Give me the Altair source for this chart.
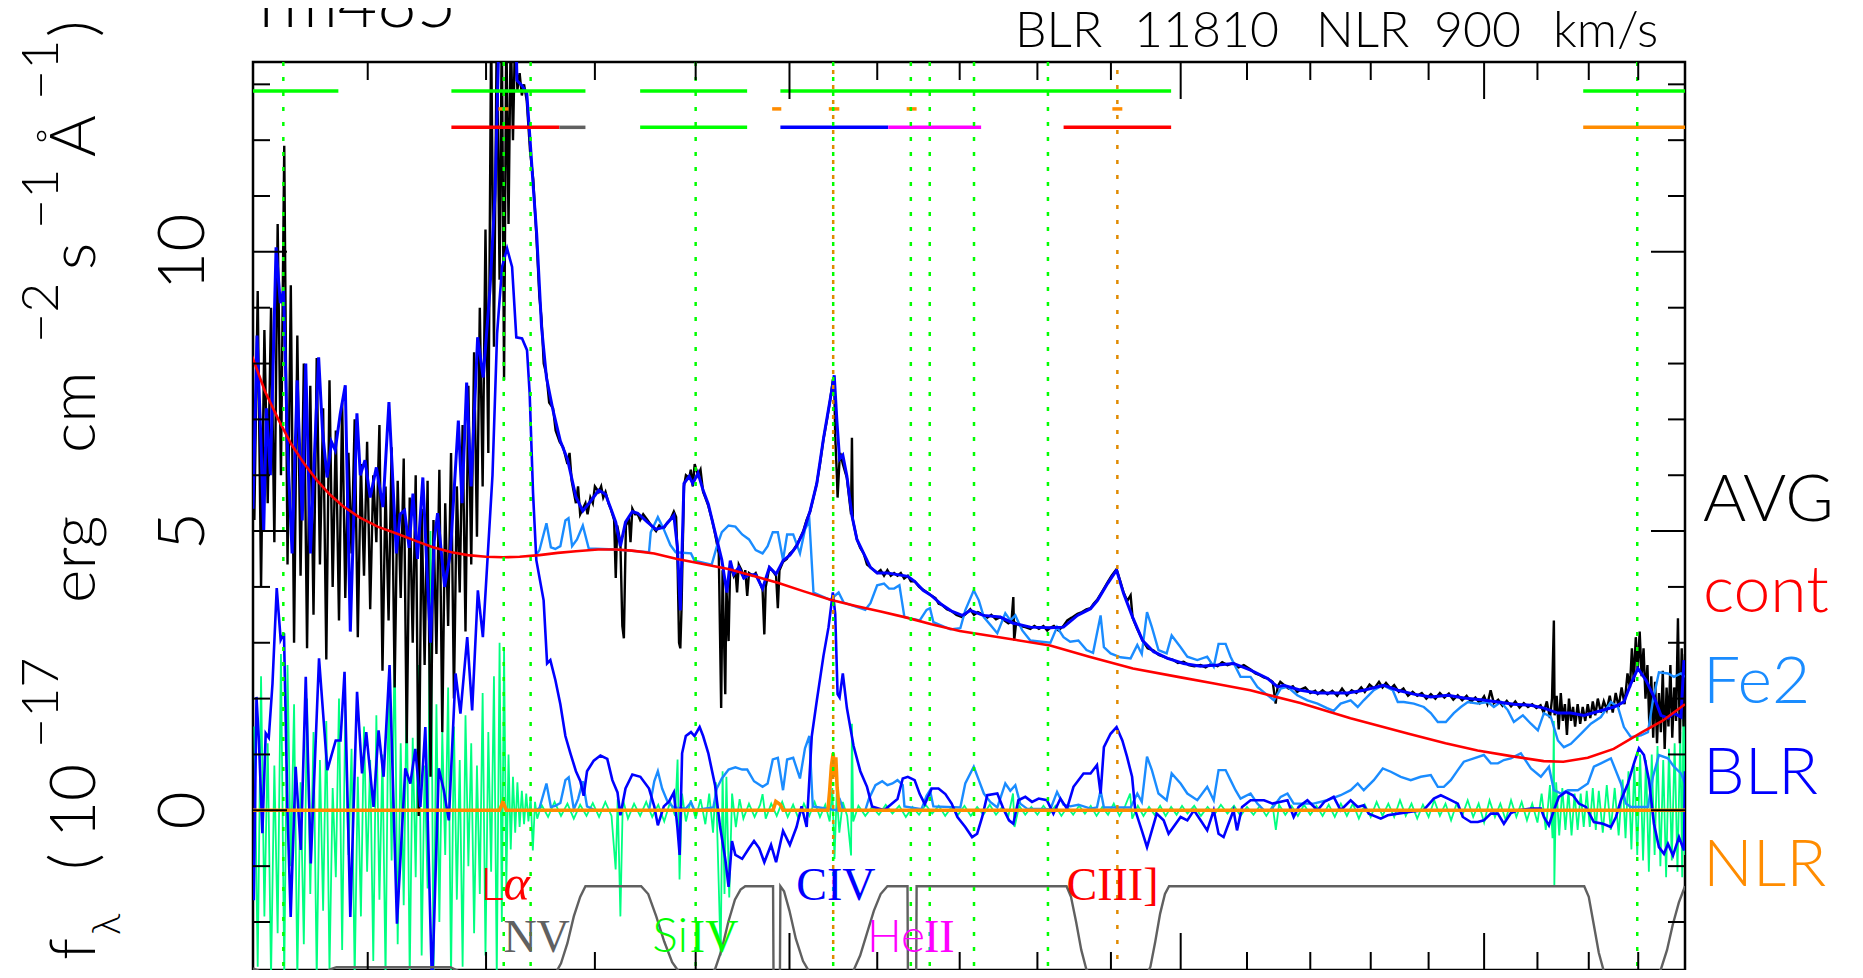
import altair as alt
import pandas as pd

# ---------------- layout ----------------
W, H = 1432, 908
X_DOMAIN = [1011, 2898]
Y_DOMAIN = [-2.86, 13.40]
SANS = "Lato"
SERIF = "Liberation Serif"

C_AVG = "#000000"
C_CONT = "#ff0000"
C_FE2 = "#1a8cff"
C_BLR = "#0000ff"
C_NLR = "#ff8c00"
C_RES = "#00ff80"
C_WIN = "#606060"
C_GRN = "#00ff00"
C_MAG = "#ff00ff"
C_DOTO = "#e08a00"

# ---------------- data (wavelength [A], flux [1e-17]) ----------------
AVG = [(1012,5.2),(1014.5,9.3),(1017,4.0),(1019.5,8.6),(1022,5.5),(1024.5,9.0),(1027,4.8),(1029.5,10.5),(1032,6.0),(1034.5,11.9),(1037,4.4),(1039.5,9.4),(1042,3.0),(1044.5,8.5),(1047,4.2),(1049.5,8.0),(1052,2.9),(1054.5,7.6),(1057,3.5),(1059.5,8.1),(1062,4.4),(1064.5,7.2),(1067,2.7),(1069.5,7.7),(1072,4.0),(1074.5,6.8),(1077,3.4),(1079.5,7.3),(1082,3.8),(1084.5,6.4),(1087,4.6),(1089.5,7.0),(1092,3.1),(1094.5,6.2),(1097,4.2),(1099.5,6.6),(1102,3.6),(1104.5,6.0),(1107,4.8),(1109.5,6.9),(1112,2.5),(1114.5,5.8),(1117,3.4),(1119.5,6.5),(1122,2.2),(1124.5,5.9),(1127,3.8),(1129.5,6.3),(1132,1.2),(1134.5,5.6),(1137,3.0),(1139.5,6.0),(1142,-0.1),(1144.5,5.4),(1147,2.6),(1149.5,5.9),(1152,0.6),(1154.5,5.2),(1157,2.8),(1159.5,6.1),(1162,1.4),(1164.5,5.5),(1167,3.3),(1169.5,6.4),(1172,2.0),(1174.5,5.8),(1177,3.9),(1179.5,6.9),(1182,3.2),(1184.5,7.6),(1187,4.4),(1189.5,8.2),(1192,4.9),(1194.5,9.0),(1197,5.8),(1199.5,10.4),(1202,6.4),(1204.5,14.0),(1207,8.3),(1209.5,14.0),(1212,9.5),(1214,14.0),(1216,7.7),(1218,14.0),(1220,10.5),(1222,14.0),(1224,12.0),(1226,14.0),
       (1228,12.9),(1230,13.2),(1232,12.8),(1234,13.0),(1236.5,12.7),(1239.5,11.8),(1242.4,11.3),(1245.5,10.2),(1248,9.2),(1250,8.8),(1252,8.0),(1254.5,7.8),(1257,7.3),(1260.6,7.2),(1263,6.8),(1266.7,6.6),(1270,6.5),(1274,6.2),(1276,6.4),(1278,5.9),(1282,5.5),(1284,5.8),(1286,5.3),(1288.5,5.4),(1291,5.5),(1293,5.3),(1295.7,5.6),(1298,5.5),(1300,5.8),(1303.7,5.7),(1306,5.8),(1308,5.6),(1310.2,5.7),(1313,5.5),(1315.2,5.4),(1318.5,5.2),(1320.1,4.16),(1321.5,5.1),(1324.6,4.8),(1326.5,3.3),(1328,3.08),(1330,5.1),(1333,5.2),(1334.5,4.8),(1336.3,5.4),(1339,5.3),(1341.6,5.3),(1344,5.2),(1347,5.3),(1351.2,5.2),(1355,5.1),(1359.8,5.0),(1363,5.1),(1367.6,5.05),(1371,5.15),(1374,5.2),(1377.7,5.35),(1380,5.25),(1381.3,4.6),(1383,3.0),(1384.3,2.9),(1385.5,3.6),(1388,5.8),(1390,6.0),(1393.4,5.95),(1395,6.1),(1397,5.8),(1399,6.2),(1402.4,6.0),(1405,6.1),(1407.7,5.7),(1410,5.6),(1413.1,5.45),(1417,5.2),(1420.1,4.95),(1424,4.6),(1426.5,1.83),(1428,4.3),(1430.8,2.08),(1432,4.0),(1434.3,3.03),(1436,4.4),(1439.7,4.2),(1441.5,4.3),(1443.3,3.9),(1445.1,4.4),(1448,4.3),(1450.5,4.15),(1452,4.3),(1454.1,3.84),(1456,4.25),(1460,4.2),(1463.2,4.25),(1467,4.1),(1470.6,3.95),(1472.5,3.15),(1474,4.0),(1478,4.35),(1481,4.3),(1485.3,4.2),(1487.2,3.62),(1489,4.3),(1492.9,4.45),(1497,4.5),(1500.4,4.6),(1504,4.65),(1507.8,4.75),(1511,4.85),(1515.3,5.0),(1519,5.2),(1522.9,5.35),(1526.7,5.6),(1530.4,5.85),(1534,6.2),(1538,6.65),(1542,7.0),(1545.6,7.35),(1548.6,7.7),(1550.2,7.7),(1551.3,6.7),(1553.2,6.0),(1554,5.6),(1556.3,6.3),(1557.1,6.4),(1560,6.2),(1564.7,5.95),(1569.5,5.3),(1570.5,6.67),(1571.5,5.2),(1576.3,4.85),(1580,4.7),(1584.1,4.6),(1588,4.4),(1592,4.35),(1596,4.3),(1599.9,4.25),(1604,4.3),(1608,4.2),(1612,4.3),(1616,4.2),(1620,4.25),(1624,4.2),(1628,4.25),(1632,4.15),(1636.4,4.2),(1640,4.1),(1644.6,4.1),(1650,4.0),(1654.9,3.95),(1660,3.9),(1665.4,3.84),(1670,3.8),(1674,3.7),(1678,3.68),(1684,3.6),(1690.6,3.56),(1696,3.5),(1703.2,3.46),(1708,3.52),(1713.3,3.6),(1718,3.5),(1723,3.55),(1729.7,3.5),(1735,3.45),(1740,3.5),(1746,3.42),(1751.5,3.46),(1757,3.4),(1762,3.35),(1766,3.38),(1768.4,3.82),(1769.5,3.04),(1772,3.35),(1778,3.3),(1784,3.28),(1790.7,3.25),(1796,3.3),(1802,3.25),(1808,3.3),(1813,3.22),(1817.3,3.27),(1822,3.3),(1828,3.22),(1834.8,3.3),(1840,3.4),(1846,3.45),(1853.8,3.52),(1860,3.55),(1866,3.6),(1871.7,3.62),(1876,3.7),(1881.4,3.78),(1888,3.92),(1895.3,4.08),(1901,4.2),(1907.9,4.32),(1912,4.15),(1917.8,3.9),(1923,3.75),(1927.7,3.85),(1930.5,3.45),(1937,3.25),(1944.8,3.04),(1952,2.9),(1960.6,2.86),(1968,2.78),(1975,2.75),(1980.9,2.72),(1988,2.7),(1996,2.64),(2004.3,2.66),(2012,2.6),(2020,2.58),(2029.5,2.6),(2037,2.56),(2045,2.62),(2055,2.58),(2062,2.65),(2070,2.6),(2079.3,2.64),(2087,2.56),(2095,2.6),(2105.5,2.52),(2113,2.45),(2120,2.42),(2126,2.38),(2132.1,2.36),(2140,2.3),(2144.7,1.91),(2147.9,2.22),(2152,2.3),(2157.4,2.25),(2165,2.18),(2172,2.22),(2179,2.12),(2184.5,2.16),(2192,2.2),(2200,2.1),(2208,2.14),(2212,2.08),(2220,2.15),(2228,2.08),(2236,2.14),(2244,2.05),(2252,2.18),(2260,2.06),(2268,2.15),(2276,2.1),(2284,2.2),(2290,2.12),(2298,2.25),(2306,2.18),(2314,2.3),(2320,2.2),(2326,2.28),(2334,2.18),(2340,2.24),(2348,2.12),(2356,2.18),(2364,2.05),(2372,2.12),(2380,2.05),(2388,2.1),(2396,2.0),(2404,2.08),(2412,2.0),(2420,2.1),(2428,2.02),(2436,2.09),(2444,1.98),(2452,2.06),(2460,1.97),(2468,2.05),(2476,1.94),(2484,2.02),(2492,1.92),(2500,2.04),(2506,1.9),(2512,2.15),(2518,1.92),(2526,1.98),(2534,1.87),(2542,1.96),(2550,1.86),(2558,1.95),(2566,1.84),(2574,1.92),(2582,1.85),(2590,1.9),(2598,1.83),(2606,1.88),(2612,1.75),(2618,1.95),(2624,1.65),(2628,2.0),(2631.6,3.4),(2633,1.7),(2637,2.05),(2641,1.45),(2645,2.1),(2649,1.6),(2653,1.9),(2657,1.35),(2661,2.0),(2665,1.6),(2669,1.85),(2673,1.5),(2678,1.9),(2683,1.55),(2688,1.85),(2693,1.6),(2698,1.9),(2703,1.65),(2708,1.95),(2713,1.7),(2718,2.0),(2724,1.75),(2730,1.95),(2736,1.8),(2742,2.05),(2748,1.75),(2754,2.1),(2760,1.85),(2766,2.2),(2772,1.9),(2778,2.45),(2783,2.2),(2787,2.9),(2791,2.3),(2795,3.1),(2799,2.5),(2803,3.2),(2807,2.4),(2811,2.9),(2815,2.0),(2819,2.6),(2823,1.5),(2827,2.4),(2831,1.3),(2835,2.3),(2839,1.2),(2843,2.1),(2847,1.4),(2851,2.5),(2855,1.1),(2859,2.2),(2863,1.5),(2867,2.6),(2871,1.3),(2875,2.2),(2879,1.6),(2883,3.44),(2887,1.2),(2891,2.9),(2895,1.5),(2898,2.8)]

TOTAL = [(1011,5.4),(1014,8.5),(1016.5,6.9),(1019,5.0),(1021,7.2),(1024,6.0),(1028.3,10.08),(1031.5,9.08),(1034,9.31),(1037,6.5),(1040.5,4.6),(1044.4,7.7),(1048.3,5.19),(1051,8.0),(1054.6,4.6),(1058,6.5),(1061,8.11),(1064,6.8),(1067.6,5.96),(1071,6.6),(1074,6.45),(1078,7.1),(1082,7.61),(1086,3.2),(1091.3,7.11),(1094,6.0),(1097.8,6.27),(1102,5.6),(1107,6.14),(1112.4,5.43),(1117.3,7.31),(1123.4,4.6),(1126.5,5.3),(1130.2,5.37),(1134,4.7),(1137.2,5.67),(1141,4.5),(1145.5,5.96),(1149,4.3),(1152,3.0),(1155,4.8),(1158,5.32),(1164,4.0),(1168.9,4.6),(1175.8,6.98),(1179,5.5),(1183,7.66),(1186.9,5.8),(1192.6,8.47),(1197.5,7.75),(1203.4,9.31),(1208,11.05),(1211,13.5),(1213,14.5),(1226,14.5),(1227.6,13.07),(1232,12.98),(1236.5,12.84),(1239.5,12.0),(1242.4,11.16),(1245.5,10.33),(1250,8.65),(1254.5,7.75),(1260.6,7.16),(1267.4,6.61),(1274,6.29),(1282,5.61),(1288.5,5.36),(1295.7,5.53),(1303.7,5.73),(1310.2,5.66),(1315.2,5.41),(1320.1,5.16),(1324.6,4.73),(1329.6,5.16),(1336.3,5.35),(1341.6,5.32),(1351.2,5.16),(1359.8,5.03),(1367.6,5.07),(1377.7,5.28),(1381.3,4.72),(1384.3,3.58),(1388,5.85),(1393.4,5.98),(1397,5.85),(1402.4,6.04),(1407.7,5.73),(1413.1,5.48),(1420.1,4.98),(1427.2,4.48),(1432.5,3.9),(1436.1,4.47),(1439.7,4.23),(1445.1,4.35),(1450.5,4.16),(1456,4.22),(1463.2,4.22),(1470.6,3.97),(1478,4.35),(1485.3,4.23),(1492.9,4.47),(1500.4,4.57),(1507.8,4.73),(1515.3,4.98),(1522.9,5.36),(1530.4,5.85),(1538,6.66),(1545.6,7.36),(1550.2,7.79),(1553.2,6.98),(1556.3,6.29),(1560,6.36),(1564.7,5.98),(1570.5,5.28),(1576.3,4.85),(1584.1,4.6),(1592,4.35),(1599.9,4.25),(1612,4.25),(1624,4.22),(1636.4,4.19),(1644.6,4.1),(1654.9,3.94),(1665.4,3.84),(1678,3.68),(1690.6,3.56),(1703.2,3.49),(1713.3,3.58),(1729.7,3.49),(1751.5,3.46),(1768.4,3.35),(1790.7,3.28),(1817.3,3.27),(1834.8,3.28),(1853.8,3.49),(1871.7,3.61),(1881.4,3.76),(1895.3,4.06),(1907.9,4.3),(1917.8,3.88),(1930.5,3.46),(1944.8,3.04),(1960.6,2.84),(1980.9,2.72),(2004.3,2.63),(2029.5,2.58),(2055,2.6),(2079.3,2.63),(2105.5,2.51),(2132.1,2.36),(2147.9,2.21),(2157.4,2.24),(2184.5,2.15),(2212,2.1),(2238.2,2.1),(2261.4,2.1),(2288.2,2.15),(2322.2,2.24),(2346.2,2.15),(2374,2.08),(2403.9,2.03),(2434.2,2.06),(2463,2.01),(2494,1.98),(2525.4,1.94),(2555.3,1.9),(2587.5,1.88),(2612.4,1.83),(2639.4,1.74),(2664.7,1.74),(2690.3,1.7),(2718.2,1.77),(2750.4,1.85),(2770.7,1.94),(2785,2.27),(2799.4,2.54),(2816,2.33),(2832.6,2.03),(2847.2,1.7),(2861.9,1.65),(2874.6,1.74),(2889.4,1.67),(2895.8,2.69)]

BLR = [(1011.6,-1.61),(1013.6,2.03),(1015.4,1.25),(1018,-0.41),(1020.5,1.38),(1022.8,1.3),(1025.6,2.27),(1028.8,3.98),(1031.8,3.05),(1034.3,3.17),(1036.9,0.06),(1039.4,-1.91),(1043.2,0.78),(1047.2,-0.71),(1051,2.39),(1054.9,-0.95),(1061.3,2.72),(1067.8,0.72),(1074.4,1.25),(1078.2,1.25),(1081.4,2.48),(1086,-1.91),(1091.4,2.12),(1095.4,0.66),(1098.8,1.4),(1104.7,0.06),(1108.8,1.43),(1112.9,0.6),(1117.8,2.6),(1123.9,-2.03),(1130.8,0.75),(1135,0.48),(1139.2,1.1),(1143.4,0.06),(1147.6,1.49),(1153.3,-3.2),(1159,0.75),(1163.3,0.36),(1167.6,-0.18),(1173.4,2.45),(1177.6,1.73),(1183.5,3.1),(1187.8,1.79),(1192.8,3.94),(1197.2,3.1),(1201.3,4.5),(1205.7,6.0),(1209.8,8.54),(1214.2,9.73),(1218.7,10.06),(1223.2,9.73),(1227,8.47),(1232.2,8.45),(1236.7,8.24),(1239.1,7.47),(1242.2,5.68),(1245.2,4.48),(1251.9,3.76),(1255.1,2.63),(1258.1,2.69),(1262.8,2.33),(1267.4,1.9),(1272.1,1.33),(1276.8,1.02),(1282,0.7),(1286.2,0.52),(1289.3,0.26),(1292.5,0.7),(1298.9,0.89),(1305.3,0.98),(1311.9,0.92),(1316.8,0.54),(1321.8,0.32),(1324.6,-0.09),(1329.6,0.39),(1336.3,0.64),(1344.2,0.6),(1352.8,0.39),(1358,0.07),(1361.6,-0.27),(1367.6,0.07),(1372.9,0.16),(1377.7,0.32),(1381.3,-0.3),(1383.6,-0.8),(1386.1,1.02),(1389.9,1.33),(1395.2,1.4),(1398.8,1.33),(1404.1,1.49),(1407.7,1.33),(1413.1,1.02),(1420.1,0.45),(1425.4,-0.3),(1430.8,-0.87),(1434.3,-1.37),(1437.9,-0.55),(1441.5,-0.8),(1448.7,-0.87),(1456,-0.68),(1461.4,-0.55),(1467,-0.68),(1472.5,-0.93),(1479.8,-0.62),(1485.3,-0.93),(1492.9,-0.37),(1500.4,-0.62),(1507.8,-0.3),(1513.4,0.07),(1519.1,-0.3),(1524.8,1.33),(1530.4,1.96),(1538,2.77),(1543.7,3.28),(1548.6,3.9),(1551.3,3.52),(1554,2.08),(1556.3,2.02),(1560,2.45),(1564.7,1.83),(1572.4,1.15),(1580.2,0.7),(1588,0.42),(1593.9,0.07),(1608,0.0),(1624,0.2),(1630.3,0.57),(1636.4,0.6),(1644.6,0.54),(1650.8,0.29),(1657,0.11),(1665.4,0.39),(1673.7,0.39),(1682.2,0.29),(1690,0.12),(1697.2,-0.12),(1707,-0.3),(1715.6,-0.48),(1722,-0.42),(1728.4,-0.12),(1734.8,0.27),(1747.7,0.3),(1756.3,0.0),(1762.8,-0.18),(1768.4,-0.24),(1775,0.18),(1784.1,0.24),(1792.9,0.15),(1801.7,0.21),(1812.6,0.18),(1821.3,-0.06),(1830.7,0.21),(1839.6,0.03),(1848.4,0.42),(1862.1,0.66),(1871.7,0.66),(1880.6,0.81),(1885.6,0.3),(1890.2,1.13),(1899.5,1.37),(1907.9,1.49),(1916,1.25),(1922.6,0.96),(1929.8,0.6),(1934.3,0.0),(1943.6,-0.36),(1951.1,-0.66),(1958.1,-0.36),(1965.1,-0.06),(1975.1,-0.18),(1982.3,-0.42),(1999.9,-0.12),(2009.8,-0.18),(2019.6,0.0),(2029.5,-0.18),(2039.4,-0.36),(2049.2,0.0),(2056.5,-0.42),(2064.1,-0.48),(2071.6,-0.24),(2079.3,0.0),(2084.6,-0.36),(2092.4,0.06),(2105.5,0.18),(2126.4,0.18),(2139.6,0.12),(2163.4,0.18),(2173.3,-0.12),(2181.3,0.06),(2195.3,0.18),(2211.8,0.0),(2222.7,0.15),(2238.2,0.24),(2249.7,0.0),(2266.3,0.18),(2278.1,0.06),(2288.2,0.09),(2296.7,-0.06),(2317.1,-0.15),(2329,-0.09),(2346.2,-0.06),(2372,-0.02),(2391,0.0),(2409.2,0.21),(2421.6,0.27),(2434.2,0.21),(2452.1,0.12),(2461.2,-0.12),(2475.7,-0.21),(2488.5,-0.21),(2499.5,-0.18),(2512.4,-0.06),(2525.4,-0.06),(2536.6,-0.24),(2549.7,-0.05),(2562.9,0.0),(2587.5,0.03),(2606.6,0.03),(2612.4,-0.12),(2622,-0.27),(2631.6,0.0),(2641.3,0.24),(2655,0.33),(2668.7,0.27),(2680.4,0.12),(2694.3,0.06),(2710.2,-0.21),(2728.2,-0.24),(2744.3,-0.3),(2754.5,-0.12),(2764.6,0.18),(2778.9,0.48),(2791.2,0.84),(2801.5,1.11),(2811.8,0.99),(2822.2,0.54),(2832.6,-0.24),(2843,-0.66),(2853.5,-0.78),(2861.9,-0.6),(2872.5,-0.81),(2885.2,-0.48),(2895.8,-0.72),(2898,0.7)]

FE2 = [(1245,0.0),(1248.1,0.04),(1254.5,0.48),(1258.6,0.06),(1262.7,0.08),(1267.4,0.13),(1272.1,0.54),(1275.2,0.59),(1280,0.02),(1284,0.2),(1288.5,0.52),(1292.5,0.07),(1300,0.0),(1352.8,0.0),(1358,0.52),(1361.6,0.7),(1365.9,0.39),(1371.2,0.16),(1377.7,0.05),(1390,0.03),(1395.2,0.14),(1398.8,0.0),(1418.3,0.05),(1421.9,0.39),(1427.2,0.57),(1434.3,0.73),(1441.5,0.77),(1448.7,0.73),(1454.1,0.73),(1461.4,0.52),(1470.6,0.42),(1476.1,0.48),(1481.7,0.91),(1487.2,0.94),(1492.9,0.36),(1497.4,0.91),(1504.1,0.94),(1511.6,0.57),(1517.2,1.11),(1522.1,1.33),(1525.9,0.07),(1553.2,0.0),(1557.1,0.17),(1561,0.0),(1586,0.0),(1590,0.2),(1597.9,0.45),(1605.9,0.52),(1612,0.45),(1618,0.48),(1624,0.54),(1630.3,0.45),(1632.3,0.07),(1652.9,0.02),(1659.1,0.26),(1663.3,0.36),(1667.4,0.07),(1700.8,0.05),(1707,0.48),(1717.7,0.78),(1724.1,0.54),(1730.5,0.3),(1738.7,0.15),(1747.7,0.05),(1758,0.48),(1764.5,0.35),(1771,0.45),(1777.4,0.12),(1786.2,0.03),(1817.3,0.02),(1826.2,0.33),(1834.9,0.1),(1843.9,0.07),(1855.1,0.1),(1871.7,0.03),(1880.6,0.05),(1885.6,0.36),(1890.2,0.05),(1927.7,0.05),(1937.2,0.3),(1943.6,0.15),(1951.1,0.96),(1958.1,0.72),(1967.6,0.3),(1979.5,0.18),(1986.8,0.66),(1999.9,0.48),(2009.8,0.3),(2024.6,0.18),(2039.4,0.42),(2049.2,0.18),(2056.5,0.72),(2067.2,0.72),(2074.7,0.54),(2082.3,0.36),(2090,0.21),(2105.5,0.3),(2116,0.12),(2126.4,0.0),(2136.9,0.0),(2152.6,0.24),(2163.4,0.3),(2173.3,0.12),(2190,0.12),(2205.2,0.12),(2227.3,0.18),(2249.7,0.27),(2266.3,0.36),(2278.1,0.48),(2288.2,0.36),(2305.2,0.54),(2320.5,0.75),(2334.2,0.69),(2351.4,0.6),(2368.7,0.54),(2386.2,0.6),(2403.9,0.63),(2416.3,0.42),(2427,0.42),(2439.5,0.54),(2452.1,0.72),(2463,0.87),(2481.2,0.93),(2499.5,0.99),(2512.4,0.84),(2525.4,0.84),(2536.6,0.9),(2549.7,0.93),(2568.5,1.02),(2587.5,0.75),(2606.6,0.6),(2622,0.78),(2631.6,0.36),(2645.2,0.3),(2658.9,0.36),(2678.4,0.36),(2698.2,0.48),(2710.2,0.78),(2724.2,0.84),(2744.3,0.93),(2764.6,0.48),(2774.8,0.12),(2785,0.06),(2820.1,0.06),(2830.5,0.6),(2843,0.99),(2861.9,0.93),(2874.6,0.78),(2889.4,0.66),(2898,0.48)]

FE2_CONT = [(1245,4.57),(1248.1,4.66),(1254.5,5.14),(1258.6,4.71),(1262.7,4.68),(1267.4,4.73),(1272.1,5.19),(1275,5.23),(1278.4,4.73),(1283,4.85),(1288.5,5.1),(1294.1,4.69),(1320,4.67),(1352.8,4.62),(1354.5,4.98),(1361.6,5.25),(1367.6,5.03),(1374.2,4.75),(1379.6,4.62),(1395.2,4.6),(1398.8,4.47),(1416.6,4.4),(1421.9,4.72),(1427.2,4.98),(1434.3,5.1),(1441.5,5.08),(1448.7,4.94),(1456,4.85),(1463.2,4.66),(1470.6,4.6),(1476.1,4.73),(1481.7,4.98),(1487.2,4.98),(1492.9,4.48),(1497.4,4.94),(1504.1,4.94),(1511.6,4.6),(1517.2,5.03),(1522.1,5.19),(1526.7,3.9),(1545.6,3.77),(1555.2,3.9),(1561,3.72),(1586,3.59),(1592,3.71),(1599.9,4.03),(1608,4.06),(1614,3.97),(1620,3.97),(1626.3,4.03),(1632.3,3.46),(1650.8,3.4),(1659.1,3.59),(1663.3,3.62),(1667.4,3.37),(1688.3,3.24),(1700.8,3.26),(1707,3.58),(1717.7,3.94),(1724.1,3.76),(1730.5,3.46),(1747.7,3.17),(1758,3.53),(1764.5,3.4),(1771,3.49),(1780.1,3.22),(1790.7,3.04),(1817.3,3.0),(1826.2,3.28),(1834.9,3.1),(1843.9,3.02),(1855.1,3.04),(1866.2,2.87),(1875.2,2.82),(1885.6,3.49),(1890.2,2.92),(1899.5,2.81),(1913.5,2.74),(1927.7,2.72),(1937.2,2.96),(1943.6,2.8),(1951.1,3.55),(1958.1,3.28),(1967.6,2.87),(1979.5,2.81),(1986.8,3.13),(1999.9,2.92),(2009.8,2.75),(2024.6,2.69),(2039.4,2.75),(2049.2,2.57),(2056.5,2.98),(2067.2,2.98),(2074.7,2.75),(2082.3,2.57),(2090,2.39),(2105.5,2.39),(2116,2.21),(2128.9,2.09),(2142,1.97),(2152.6,2.18),(2163.4,2.21),(2179,2.06),(2195.3,1.97),(2211.8,1.91),(2227.3,1.83),(2238.2,1.78),(2249.7,1.91),(2266.3,1.97),(2278.1,1.85),(2288.2,1.97),(2305.2,2.15),(2320.5,2.24),(2337.6,2.15),(2346.2,1.94),(2356.6,1.94),(2374,1.91),(2391.6,1.85),(2403.9,1.74),(2416.3,1.58),(2430.6,1.58),(2444.9,1.74),(2457.6,1.85),(2470.3,1.94),(2488.5,1.91),(2506.9,1.94),(2518,1.85),(2531,1.94),(2544.1,1.79),(2555.3,1.58),(2572.3,1.7),(2587.5,1.55),(2600.8,1.43),(2612.4,1.74),(2625.8,1.67),(2639.4,1.25),(2651,1.13),(2664.7,1.19),(2684.4,1.37),(2704.2,1.55),(2724.2,1.67),(2744.3,1.94),(2758.5,1.85),(2770.7,1.49),(2785,1.31),(2805.6,1.34),(2820.1,1.4),(2830.5,1.97),(2843,2.47),(2861.9,2.45),(2874.6,2.39),(2889.4,2.45),(2898,2.39)]

CONT = [(1010,8.15),(1020,7.5),(1030,7.0),(1040,6.55),(1050,6.2),(1060,5.9),(1070,5.65),(1080,5.45),(1093,5.25),(1108,5.08),(1123,4.96),(1140,4.82),(1154,4.71),(1170,4.62),(1184,4.57),(1200,4.54),(1215,4.53),(1230,4.54),(1248,4.57),(1265,4.61),(1282,4.64),(1303,4.67),(1320,4.67),(1336,4.65),(1358,4.6),(1381,4.5),(1405,4.42),(1434,4.32),(1460,4.2),(1488,4.07),(1516,3.92),(1546,3.77),(1575,3.66),(1604,3.56),(1635,3.45),(1665,3.33),(1700,3.21),(1750,3.1),(1817,2.95),(1870,2.75),(1931,2.54),(2000,2.38),(2050,2.27),(2105,2.15),(2184,1.92),(2266,1.65),(2365,1.37),(2430,1.2),(2488,1.07),(2550,0.97),(2612,0.88),(2650,0.87),(2698,0.94),(2750,1.1),(2808,1.4),(2850,1.6),(2898,1.9)]

NLR = [(1011,0.0),(1212,0.0),(1215,0.15),(1218,0.0),(1482,0.0),(1485,0.16),(1490,0.1),(1493,0.0),(1543,0.0),(1545,0.35),(1547,0.8),(1549,1.02),(1550.5,0.6),(1552,0.95),(1553.5,0.4),(1556,0.0),(2898,0.0)]

RESID = [(1012,1.5),(1014.5,-2.8),(1017,2.4),(1019.5,-1.9),(1022,1.2),(1024.5,-3.0),(1027,0.8),(1029.5,-2.2),(1032,2.8),(1034.5,-3.0),(1037,2.6),(1039.5,-1.0),(1042,1.9),(1044.5,-3.0),(1047,0.5),(1049.5,-2.4),(1052,2.0),(1054.5,-1.5),(1057,1.4),(1059.5,-3.0),(1062,0.9),(1064.5,-1.8),(1067,1.6),(1069.5,-2.9),(1072,0.4),(1074.5,-1.2),(1077,2.0),(1079.5,-2.5),(1082,1.8),(1084.5,-0.8),(1087,1.1),(1089.5,-3.0),(1092,0.6),(1094.5,-1.9),(1097,1.5),(1099.5,-1.1),(1102,0.9),(1104.5,-2.7),(1107,1.7),(1109.5,-1.6),(1112,1.0),(1114.5,-3.0),(1117,2.3),(1119.5,-0.9),(1122,3.0),(1124.5,-2.4),(1127,1.2),(1129.5,-1.7),(1132,2.2),(1134.5,-3.0),(1137,1.3),(1139.5,-1.2),(1142,2.6),(1144.5,-2.6),(1147,0.8),(1149.5,-1.4),(1152,5.0),(1154.5,-3.0),(1157,1.9),(1159.5,-2.0),(1162,1.4),(1164.5,-0.8),(1167,2.2),(1169.5,-3.0),(1172,1.5),(1174.5,-1.6),(1177,0.9),(1179.5,-2.8),(1182,1.7),(1184.5,-1.0),(1187,1.2),(1189.5,-2.2),(1192,0.8),(1194.5,-1.5),(1197,2.1),(1199.5,-2.6),(1202,1.4),(1204.5,-1.1),(1207,2.4),(1209.5,-3.0),(1212,3.0),(1214,-2.0),(1216,2.9),(1218,-1.4),(1220,1.0),(1222,-0.7),(1224,0.6),(1226,-0.4),(1228,0.5),(1230,-0.3),(1232,0.35),(1234,-0.25),(1236,0.3),(1238,-0.2),(1240,0.25),(1242,-0.72),(1244,0.15),(1246,-0.15),(1250,0.1),(1256,-0.12),(1262,0.15),(1268,-0.1),(1274,0.12),(1280,-0.15),(1286,0.1),(1292,-0.1),(1298,0.13),(1304,-0.12),(1310,0.15),(1316,-0.1),(1320,-1.06),(1322,0.2),(1324.6,-1.9),(1327,0.2),(1332,-0.15),(1338,0.12),(1344,-0.1),(1350,0.15),(1356,-0.12),(1362,0.1),(1368,-0.2),(1374,0.15),(1379,-0.1),(1381.5,0.91),(1383.5,-1.24),(1386,0.3),(1390,-0.2),(1395,0.18),(1400,-0.15),(1405,0.2),(1410,-0.25),(1414,0.3),(1418,-0.4),(1421,0.5),(1426,-2.6),(1428,0.7),(1430,-1.5),(1432,0.6),(1435,-1.56),(1438,0.3),(1442,-0.3),(1446,0.2),(1450,-0.15),(1456,0.12),(1462,-0.12),(1468,0.1),(1470.6,0.29),(1474,-0.15),(1480,0.12),(1486,-0.1),(1492,0.15),(1498,-0.12),(1504,0.1),(1510,-0.15),(1516,0.12),(1522,-0.1),(1528,0.15),(1534,-0.12),(1540,0.1),(1545,-0.2),(1548,0.4),(1550.5,-0.87),(1553,0.3),(1556,-0.4),(1560,0.15),(1565,-0.1),(1569.5,-0.81),(1570.5,1.55),(1572,-0.2),(1578,0.08),(1586,-0.1),(1594,0.06),(1602,-0.08),(1610,0.1),(1618,-0.06),(1626,0.08),(1634,-0.12),(1642,0.06),(1650,-0.08),(1658,0.1),(1666,-0.06),(1674,0.08),(1682,-0.1),(1690,0.06),(1698,-0.08),(1706,0.08),(1714,-0.1),(1722,0.06),(1730,-0.08),(1738,0.1),(1746,-0.08),(1754,0.06),(1762,-0.1),(1768,0.3),(1770,-0.3),(1776,0.08),(1784,-0.08),(1792,0.06),(1800,-0.08),(1808,0.08),(1816,-0.06),(1824,0.08),(1832,-0.1),(1840,0.06),(1848,-0.08),(1856,0.08),(1864,-0.06),(1872,0.08),(1880,-0.1),(1888,0.06),(1896,-0.08),(1904,0.12),(1912,-0.1),(1920,0.08),(1927,0.3),(1930,-0.15),(1938,0.08),(1946,-0.1),(1954,0.06),(1962,-0.08),(1970,0.08),(1978,-0.1),(1986,0.06),(1994,-0.08),(2002,0.08),(2010,-0.06),(2020,0.08),(2030,-0.1),(2040,0.06),(2050,-0.08),(2060,0.1),(2070,-0.06),(2080,0.08),(2090,-0.1),(2100,0.06),(2110,-0.08),(2120,0.08),(2130,-0.1),(2140,0.08),(2145,-0.35),(2150,0.1),(2160,-0.08),(2170,0.08),(2180,-0.1),(2190,0.1),(2200,-0.08),(2210,0.08),(2220,-0.1),(2230,0.1),(2240,-0.12),(2250,0.12),(2260,-0.1),(2270,0.12),(2280,-0.15),(2290,0.1),(2300,-0.12),(2310,0.15),(2320,-0.1),(2330,0.12),(2340,-0.12),(2350,0.18),(2360,-0.1),(2370,0.12),(2380,-0.15),(2390,0.1),(2400,-0.12),(2410,0.18),(2420,-0.1),(2430,0.12),(2440,-0.18),(2450,0.12),(2460,-0.1),(2470,0.18),(2480,-0.12),(2490,0.12),(2500,-0.22),(2510,0.18),(2520,-0.12),(2530,0.12),(2540,-0.18),(2550,0.18),(2560,-0.12),(2570,0.15),(2580,-0.18),(2590,0.12),(2600,-0.22),(2608,0.3),(2616,-0.35),(2624,0.45),(2629,-0.5),(2631.6,1.6),(2632.5,-1.35),(2636,0.5),(2642,-0.45),(2648,0.4),(2654,-0.35),(2660,0.35),(2666,-0.45),(2672,0.3),(2678,-0.35),(2684,0.3),(2690,-0.3),(2696,0.35),(2702,-0.3),(2708,0.4),(2714,-0.35),(2720,0.35),(2728,-0.4),(2736,0.45),(2744,-0.35),(2752,0.4),(2760,-0.45),(2768,0.55),(2774,-0.5),(2780,0.7),(2786,-0.7),(2792,0.8),(2798,-0.8),(2804,1.0),(2810,-0.9),(2816,0.9),(2822,-1.1),(2828,1.0),(2834,-0.8),(2840,1.15),(2846,-1.0),(2852,0.9),(2858,-1.2),(2864,1.1),(2870,-0.9),(2876,1.2),(2882,-1.1),(2888,1.4),(2892,-1.2),(2895,2.4),(2898,-0.8)]

WINDOW = [(1011,-2.83),(1018,-2.9),(1026,-2.96),(1036,-2.97),(1062,-2.97),(1066,-2.92),(1070,-2.85),(1075,-2.81),(1169,-2.81),(1175,-2.87),(1181,-2.94),(1190,-2.97),(1258,-2.97),(1264,-2.88),(1268,-2.74),(1274,-2.38),(1280,-1.9),(1286,-1.55),(1291,-1.36),(1345,-1.36),(1352,-1.5),(1360,-1.9),(1368,-2.35),(1376,-2.72),(1384,-2.92),(1392,-2.97),(1412,-2.97),(1420,-2.85),(1427,-2.5),(1434,-2.0),(1441,-1.6),(1447,-1.42),(1452,-1.36),(1482,-1.36),(1482.5,-2.97),(1489.5,-2.97),(1490,-1.36),(1494,-1.45),(1500,-1.8),(1507,-2.3),(1515,-2.7),(1523,-2.92),(1532,-2.97),(1565,-2.97),(1572,-2.88),(1580,-2.6),(1588,-2.2),(1596,-1.8),(1604,-1.5),(1612,-1.36),(1636,-1.36),(1636.5,-2.97),(1646.5,-2.97),(1647,-1.36),(1839,-1.36),(1845,-1.55),(1852,-2.0),(1859,-2.5),(1866,-2.85),(1875,-2.97),(1950,-2.97),(1956,-2.8),(1963,-2.35),(1970,-1.85),(1977,-1.5),(1983,-1.36),(2691,-1.36),(2700,-1.55),(2710,-2.05),(2720,-2.55),(2730,-2.88),(2741,-2.97),(2835,-2.97),(2847,-2.85),(2860,-2.5),(2872,-2.05),(2885,-1.65),(2898,-1.36)]

# fitting-window segments at the top: (start, end, level, colour)
SEGMENTS = [(1011,1076.5,12.88,C_GRN),(1169.8,1291,12.88,C_GRN),(1344,1454,12.88,C_GRN),(1490,1986,12.88,C_GRN),(2689,2898,12.88,C_GRN),
            (1211,1220,12.56,C_NLR),(1481,1491,12.56,C_NLR),(1544,1556,12.56,C_NLR),(1635,1647,12.56,C_NLR),(1902,1916,12.56,C_NLR),
            (1169.8,1266.5,12.23,C_CONT),(1266.5,1291,12.23,C_WIN),(1344,1454,12.23,C_GRN),(1490,1613,12.23,C_BLR),(1613,1727,12.23,C_MAG),(1835,1986,12.23,C_CONT),(2689,2898,12.23,C_NLR)]

LINES_GREEN = [1033.8, 1215.7, 1240, 1400, 1549, 1640, 1663, 1718, 1814, 2798]
LINES_ORANGE = [1549, 1909]

X_TICKS_MINOR = [1100,1200,1300,1400,1600,1700,1800,1900,2100,2200,2300,2400,2600,2700,2800]
X_TICKS_MAJOR = [1500,2000,2500]
Y_TICKS_MINOR = [-2,-1,1,2,3,4,6,7,8,9,11,12,13]
Y_TICKS_MAJOR = [0,5,10]
Y_TICK_LABELS = ["0","5","10"]

LEGEND = [("AVG",5.18,C_AVG),("cont",3.55,C_CONT),("Fe2",1.92,C_FE2),("BLR",0.29,C_BLR),("NLR",-1.36,C_NLR)]

# right-hand title, word by word
TITLE_WORDS = [("BLR", 762), ("11810", 881), ("NLR", 1063), ("900", 1181), ("km/s", 1300)]

# ---------------- chart ----------------
xs = alt.Scale(type="log", domain=X_DOMAIN, nice=False, zero=False)
ys = alt.Scale(type="linear", domain=Y_DOMAIN, nice=False, zero=False)


def X(f="w"):
    return alt.X(f"{f}:Q", scale=xs, axis=None)


def Y(f="v"):
    return alt.Y(f"{f}:Q", scale=ys, axis=None)


def series(pairs, color, width):
    df = pd.DataFrame(pairs, columns=["w", "v"])
    return alt.Chart(df).mark_line(color=color, strokeWidth=width, clip=True).encode(x=X(), y=Y())


def xticks(vals, y0, y1):
    return alt.Chart(pd.DataFrame({"w": vals})).mark_rule(color="black", strokeWidth=2).encode(
        x=X(), y=alt.value(y0), y2=alt.value(y1))


def yticks(vals, x0, x1):
    return alt.Chart(pd.DataFrame({"v": vals})).mark_rule(color="black", strokeWidth=2).encode(
        y=Y(), x=alt.value(x0), x2=alt.value(x1))


def label(text, w, v, color, font, size, style="normal", weight="normal"):
    df = pd.DataFrame({"w": [w], "v": [v], "t": [text]})
    return alt.Chart(df).mark_text(font=font, fontSize=size, fontStyle=style, fontWeight=weight,
                                   color=color, align="left", baseline="alphabetic").encode(
        x=X(), y=Y(), text="t:N")


def ptext(text, px, py, size, color="black", angle=0, align="left", font=SANS, weight=300):
    df = pd.DataFrame({"t": [text]})
    return alt.Chart(df).mark_text(font=font, fontSize=size, fontWeight=weight, color=color,
                                   angle=angle, align=align, baseline="alphabetic").encode(
        x=alt.value(px), y=alt.value(py), text="t:N")


layers = []
layers.append(series(RESID, C_RES, 1.8))
layers.append(series(AVG, C_AVG, 2.4))
layers.append(series(FE2, C_FE2, 2.4))
layers.append(series(FE2_CONT, C_FE2, 2.4))
layers.append(series(BLR, C_BLR, 2.6))
layers.append(series(TOTAL, C_BLR, 3.0))
layers.append(series(CONT, C_CONT, 2.6))
layers.append(series(NLR, C_NLR, 3.6))
layers.append(series(WINDOW, C_WIN, 2.4))

seg_df = pd.DataFrame(SEGMENTS, columns=["w1", "w2", "v", "c"])
layers.append(alt.Chart(seg_df).mark_rule(strokeWidth=3.5).encode(
    x=X("w1"), x2="w2:Q", y=Y(), color=alt.Color("c:N", scale=None)))

layers.append(alt.Chart(pd.DataFrame({"w": LINES_GREEN})).mark_rule(
    color=C_GRN, strokeWidth=2.5, strokeDash=[4, 11]).encode(x=X(), y=alt.value(0), y2=alt.value(H)))
layers.append(alt.Chart(pd.DataFrame({"w": LINES_ORANGE})).mark_rule(
    color=C_DOTO, strokeWidth=2.5, strokeDash=[4, 11], strokeDashOffset=7).encode(
    x=X(), y=alt.value(0), y2=alt.value(H)))

# ticks (inside the frame)
layers.append(xticks(X_TICKS_MINOR, 0, 18))
layers.append(xticks(X_TICKS_MAJOR, 0, 37))
layers.append(xticks(X_TICKS_MINOR, H, H - 18))
layers.append(xticks(X_TICKS_MAJOR, H, H - 37))
layers.append(yticks(Y_TICKS_MINOR, 0, 17))
layers.append(yticks(Y_TICKS_MAJOR, 0, 34))
layers.append(yticks(Y_TICKS_MINOR, W, W - 17))
layers.append(yticks(Y_TICKS_MAJOR, W, W - 34))

# y tick labels (rotated)
layers.append(alt.Chart(pd.DataFrame({"v": Y_TICKS_MAJOR, "t": Y_TICK_LABELS})).mark_text(
    font=SANS, fontSize=66, fontWeight=300, angle=270, align="center", baseline="alphabetic", color="black").encode(
    y=Y(), x=alt.value(-49), text="t:N"))

# line labels
layers.append(label("L", 1195, -1.61, C_CONT, SANS, 46, weight=300))
layers.append(label("α", 1215.4, -1.61, C_CONT, SERIF, 50, style="italic"))
layers.append(label("NV", 1215.4, -2.54, C_WIN, SERIF, 46))
layers.append(label("Si", 1356, -2.54, C_GRN, SANS, 48, weight=300))
layers.append(label("IV", 1394, -2.54, C_GRN, SERIF, 46))
layers.append(label("CIV", 1507.6, -1.61, C_BLR, SERIF, 46))
layers.append(label("He", 1588, -2.54, C_MAG, SANS, 46, weight=300))
layers.append(label("II", 1656, -2.54, C_MAG, SERIF, 46))
layers.append(label("CIII]", 1839, -1.61, C_CONT, SERIF, 46))

# legend at right
leg_df = pd.DataFrame(LEGEND, columns=["t", "v", "c"])
layers.append(alt.Chart(leg_df).mark_text(font=SANS, fontSize=66, fontWeight=300, align="left",
                                          baseline="alphabetic").encode(
    y=Y(), x=alt.value(1450), text="t:N", color=alt.Color("c:N", scale=None)))

# titles
layers.append(ptext("rm485", 6, -35, 68))
for word, px in TITLE_WORDS:
    layers.append(ptext(word, px, -15, 50))

# y-axis title, built piece by piece (rotated)
YT = [("f", -158, 898, 64), ("(", -158, 808, 64), ("10", -158, 776, 64), ("erg", -158, 541, 64),
      ("cm", -158, 391, 64), ("s", -158, 208, 64), ("Å", -158, 95, 64), (")", -158, -25, 64),
      ("\u221217", -195, 686, 52), ("\u22122", -195, 281, 52), ("\u22121", -195, 167, 52),
      ("\u22121", -195, 38, 52)]
for t, px, py, sz in YT:
    layers.append(ptext(t, px, py, sz, angle=270))
layers.append(ptext("λ", -133, 873, 40, angle=270))

chart = alt.layer(*layers).properties(
    width=W, height=H,
    padding={"left": 245, "top": 54, "right": 170, "bottom": 0},
    autosize=alt.AutoSizeParams(type="none"),
    background="white",
).configure_view(stroke="black", strokeWidth=2.5)

chart.save("out.html", embed_options={"renderer": "svg", "actions": False})
